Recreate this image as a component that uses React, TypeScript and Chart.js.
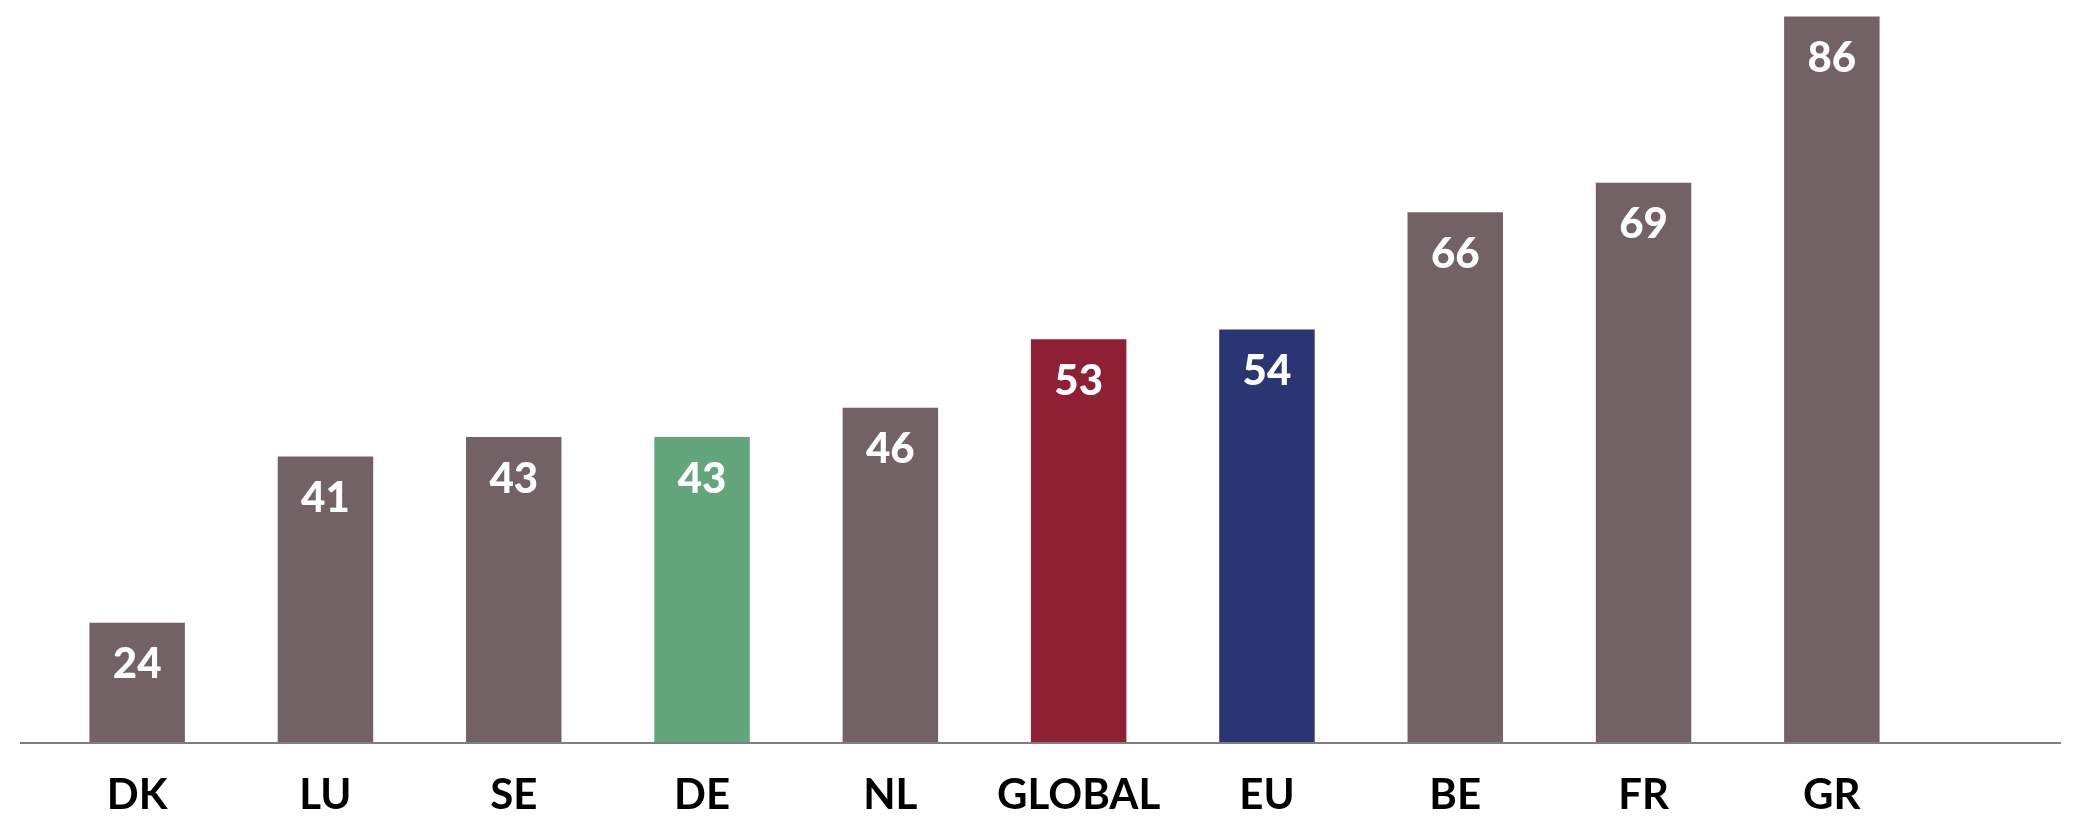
import React, { useEffect, useRef } from 'react';
import { Chart, registerables } from 'chart.js';

Chart.register(...registerables);

const categories = ['DK', 'LU', 'SE', 'DE', 'NL', 'GLOBAL', 'EU', 'BE', 'FR', 'GR'];
const values = [24, 41, 43, 43, 46, 53, 54, 66, 69, 86];
const barColors = [
  '#726265', '#726265', '#726265', '#64a67b', '#726265',
  '#8f2033', '#2a3673', '#726265', '#726265', '#726265'
];

// etiquetas blancas dentro de cada barra + línea base a todo lo ancho
const labelsPlugin = {
  id: 'barLabels',
  afterDatasetsDraw(chart: any) {
    const { ctx } = chart;
    const meta = chart.getDatasetMeta(0);
    ctx.save();
    ctx.fillStyle = '#ffffff';
    ctx.font = '900 42px Lato';
    ctx.textAlign = 'center';
    ctx.textBaseline = 'middle';
    meta.data.forEach((bar: any, i: number) => {
      ctx.fillText(String(values[i]), bar.x, bar.y + 42);
    });
    ctx.strokeStyle = '#7f7f7f';
    ctx.lineWidth = 2;
    ctx.beginPath();
    ctx.moveTo(20, chart.chartArea.bottom);
    ctx.lineTo(2061, chart.chartArea.bottom);
    ctx.stroke();
    ctx.restore();
  }
};

export default function App() {
  const canvasRef = useRef<HTMLCanvasElement | null>(null);
  const chartRef = useRef<Chart | null>(null);

  useEffect(() => {
    if (!canvasRef.current) return;
    chartRef.current?.destroy();

    chartRef.current = new Chart(canvasRef.current, {
      type: 'bar',
      data: {
        labels: categories,
        datasets: [
          {
            data: values,
            backgroundColor: barColors,
            categoryPercentage: 1,
            barPercentage: 0.507
          }
        ]
      },
      options: {
        responsive: true,
        maintainAspectRatio: false,
        animation: false,
        layout: { padding: { left: 43, right: 168, top: 0, bottom: 0 } },
        plugins: {
          legend: { display: false },
          tooltip: { enabled: false }
        },
        scales: {
          x: {
            grid: { display: false, drawTicks: false },
            border: { display: false },
            ticks: {
              color: '#000000',
              font: { family: 'Lato', weight: 'bold', size: 42 },
              padding: 27
            },
            afterFit: (scale: any) => {
              scale.height = 85;
            }
          },
          y: {
            display: false,
            min: 11.7,
            max: 87.7
          }
        }
      },
      plugins: [labelsPlugin]
    });

    return () => {
      chartRef.current?.destroy();
      chartRef.current = null;
    };
  }, []);

  return (
    <div style={{ position: 'fixed', left: 0, top: 0, width: 2094, height: 828, background: '#ffffff' }}>
      <canvas ref={canvasRef}></canvas>
    </div>
  );
}
